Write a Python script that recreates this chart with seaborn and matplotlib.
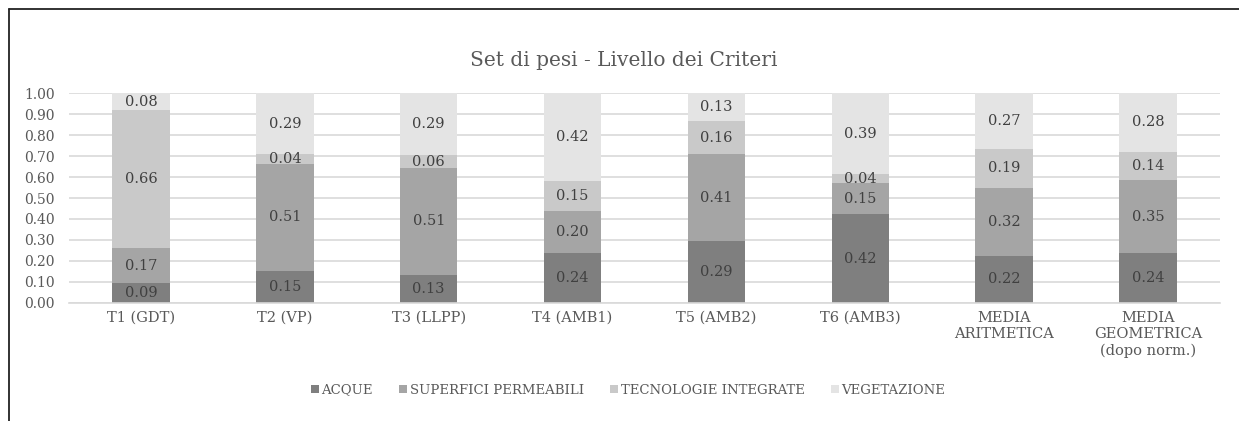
import matplotlib
matplotlib.use("Agg")
import matplotlib.pyplot as plt
from matplotlib.lines import Line2D
from matplotlib.patches import Patch
import seaborn as sns
import numpy as np

categories = ["T1 (GDT)", "T2 (VP)", "T3 (LLPP)", "T4 (AMB1)", "T5 (AMB2)", "T6 (AMB3)",
              "MEDIA\nARITMETICA", "MEDIA\nGEOMETRICA\n(dopo norm.)"]
series_names = ["ACQUE", "SUPERFICI PERMEABILI", "TECNOLOGIE INTEGRATE", "VEGETAZIONE"]
acque = [0.094, 0.153, 0.134, 0.239, 0.294, 0.422, 0.224, 0.238]
superfici = [0.166, 0.511, 0.508, 0.197, 0.414, 0.148, 0.324, 0.346]
tecnologie = [0.660, 0.044, 0.064, 0.146, 0.158, 0.044, 0.186, 0.138]
vegetazione = [0.080, 0.292, 0.294, 0.418, 0.134, 0.386, 0.266, 0.278]
yticks = [0.0, 0.1, 0.2, 0.3, 0.4, 0.5, 0.6, 0.7, 0.8, 0.9, 1.0]

colors = ["#7f7f7f", "#a5a5a5", "#c9c9c9", "#e4e4e4"]

sns.set_theme(style="white")
plt.rcParams["font.family"] = ["DejaVu Serif"]

fig = plt.figure(figsize=(12.39, 4.21), dpi=100)
ax = fig.add_axes([69/1239, 1-302.7/421, (1220-69)/1239, (302.7-93.3)/421])

all_series = [acque, superfici, tecnologie, vegetazione]
bottom = np.zeros(len(categories))
for name, vals, col in zip(series_names, all_series, colors):
    sns.barplot(x=categories, y=vals, bottom=bottom, color=col, width=0.4,
                ax=ax, label=name, linewidth=0, saturation=1)
    bottom = bottom + np.array(vals)

for cont, vals in zip(ax.containers, all_series):
    ax.bar_label(cont, labels=[f"{v:.2f}" for v in vals], label_type="center",
                 fontsize=10.5, color="#404040")

ax.set_xlim(-0.5, len(categories) - 0.5)
ax.set_ylim(0, 1.0)
ax.set_yticks(yticks)
ax.set_yticklabels([f"{t:.2f}" for t in yticks])
ax.grid(axis="y", color="#d9d9d9", linewidth=1.2)
ax.set_axisbelow(True)
for s in ["top", "right", "left"]:
    ax.spines[s].set_visible(False)
ax.spines["bottom"].set_color("#d9d9d9")
ax.spines["bottom"].set_linewidth(1.2)
ax.tick_params(axis="y", length=0, pad=10, labelsize=10, labelcolor="#595959")
ax.tick_params(axis="x", length=0, pad=6, labelsize=10.5, labelcolor="#595959")
ax.set_xlabel("")
ax.set_ylabel("")
if ax.get_legend() is not None:
    ax.get_legend().remove()

fig.text(624/1239, 1-60/421, "Set di pesi - Livello dei Criteri", ha="center", va="center",
         fontsize=14.5, color="#595959")

handles = [Patch(facecolor=c, edgecolor="none") for c in colors]
fig.legend(handles, series_names, loc="center", bbox_to_anchor=(628/1239, 1-390/421),
           ncol=4, frameon=False, fontsize=9.5, labelcolor="#595959",
           handlelength=0.6, handleheight=0.6, handletextpad=0.2, columnspacing=2.0)

# chart frame (left and top edges visible)
fig.add_artist(Line2D([8.5/1239, 8.5/1239], [0, 1-9/421], transform=fig.transFigure,
                      color="#222222", linewidth=1.3))
fig.add_artist(Line2D([8.5/1239, 1], [1-9/421, 1-9/421], transform=fig.transFigure,
                      color="#222222", linewidth=1.3))

fig.savefig("out.png", dpi=100)
